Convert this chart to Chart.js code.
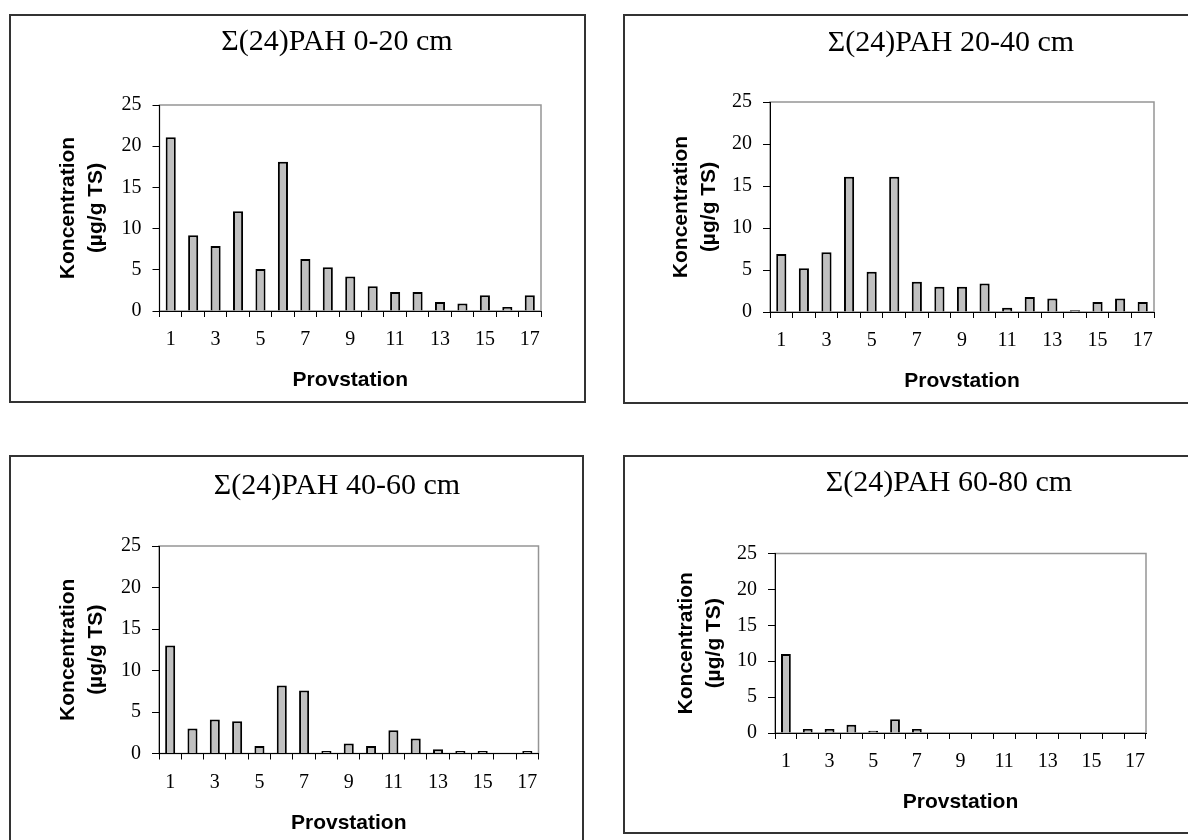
<!DOCTYPE html>
<html>
<head>
<meta charset="utf-8">
<script src="https://cdn.jsdelivr.net/npm/chart.js@4.4.0/dist/chart.umd.min.js"></script>
<style>
  html, body { margin: 0; padding: 0; background: #fff; overflow: hidden; }
  body { width: 1188px; height: 840px; position: relative; }
  .panel { position: absolute; }
  .panel canvas { position: absolute; left: 0; top: 0; }
  .frame { position: absolute; left: 0; top: 0; border: 2px solid #333; box-sizing: border-box; pointer-events: none; }
</style>
</head>
<body>
<script>
// Provstationer 1-17
const stations = ['1', '2', '3', '4', '5', '6', '7', '8', '9', '10', '11', '12', '13', '14', '15', '16', '17'];

// Σ(24)PAH, µg/g TS, per djup
const pah0_20 = [21.1, 9.2, 7.9, 12.1, 5.1, 18.1, 6.3, 5.3, 4.2, 3.0, 2.3, 2.3, 1.1, 0.9, 1.9, 0.5, 1.9];
const pah20_40 = [6.9, 5.2, 7.1, 16.1, 4.8, 16.1, 3.6, 3.0, 3.0, 3.4, 0.5, 1.8, 1.6, 0.2, 1.2, 1.6, 1.2];
const pah40_60 = [13.0, 3.0, 4.1, 3.9, 0.9, 8.2, 7.6, 0.3, 1.2, 0.9, 2.8, 1.8, 0.5, 0.3, 0.3, null, 0.3];
const pah60_80 = [11.0, 0.55, 0.55, 1.15, 0.3, 1.9, 0.55, null, null, null, null, null, null, null, null, null, null];

const yTicks = [0, 5, 10, 15, 20, 25];
const titles = ['Σ(24)PAH 0-20 cm', 'Σ(24)PAH 20-40 cm', 'Σ(24)PAH 40-60 cm', 'Σ(24)PAH 60-80 cm'];
const yTitle = ['Koncentration', '(µg/g TS)'];
const xTitle = 'Provstation';

// ram, plotyta och textlägen för varje diagram (sidkoordinater)
const panels = [
  { data: pah0_20,  title: titles[0], frame: [9, 14, 577, 389],   plot: [159.5, 105, 541, 311],   titleAt: [337, 42],  yTitleX: 68,  xTitleY: 380 },
  { data: pah20_40, title: titles[1], frame: [623, 14, 577, 390], plot: [770, 102, 1154, 312],    titleAt: [951, 43],  yTitleX: 681, xTitleY: 381 },
  { data: pah40_60, title: titles[2], frame: [9, 455, 575, 392],  plot: [159, 546, 538.5, 753.5], titleAt: [337, 486], yTitleX: 68,  xTitleY: 823 },
  { data: pah60_80, title: titles[3], frame: [623, 455, 577, 379], plot: [775, 553.5, 1146, 733], titleAt: [949, 483], yTitleX: 686, xTitleY: 802 }
];

const tickFont = { family: '"Liberation Serif", "Times New Roman", serif', size: 20 };
const axisFont = { family: '"Liberation Sans", Arial, sans-serif', size: 21, weight: 'bold', lineHeight: 1.35 };
const titleFont = '30px "Liberation Serif", "Times New Roman", serif';

// grå ram runt plotytan (vänster och nederkant täcks av axlarna)
const plotFrame = {
  id: 'plotFrame',
  beforeDraw(chart) {
    const { ctx, chartArea: a } = chart;
    ctx.save();
    ctx.strokeStyle = '#959595';
    ctx.lineWidth = 1.5;
    ctx.strokeRect(a.left, a.top, a.right - a.left, a.bottom - a.top);
    ctx.restore();
  }
};

// diagramrubrik, placerad som i originalbladet
const panelTitle = {
  id: 'panelTitle',
  afterDraw(chart, args, opts) {
    const ctx = chart.ctx;
    ctx.save();
    ctx.font = titleFont;
    ctx.fillStyle = '#000';
    ctx.textAlign = 'center';
    ctx.textBaseline = 'middle';
    ctx.fillText(opts.text, opts.x, opts.y);
    ctx.restore();
  }
};

function drawPanel(p) {
  const [fx, fy, fw, fh] = p.frame;
  const [pl, pt, pr, pb] = p.plot;
  const lh = axisFont.size * axisFont.lineHeight;

  const wrap = document.createElement('div');
  wrap.className = 'panel';
  wrap.style.left = fx + 'px';
  wrap.style.top = fy + 'px';
  wrap.style.width = fw + 'px';
  wrap.style.height = fh + 'px';

  const canvas = document.createElement('canvas');
  canvas.width = fw;
  canvas.height = fh;
  wrap.appendChild(canvas);

  const frame = document.createElement('div');
  frame.className = 'frame';
  frame.style.width = fw + 'px';
  frame.style.height = fh + 'px';
  wrap.appendChild(frame);
  document.body.appendChild(wrap);

  new Chart(canvas, {
    type: 'bar',
    data: {
      labels: stations,
      datasets: [{
        data: p.data,
        backgroundColor: '#c0c0c0',
        borderColor: '#000',
        borderWidth: 2,
        barPercentage: 0.45,
        categoryPercentage: 1
      }]
    },
    options: {
      responsive: false,
      animation: false,
      layout: {
        padding: { left: 0, top: pt - fy, right: fx + fw - pr, bottom: 0 }
      },
      plugins: {
        legend: { display: false },
        tooltip: { enabled: false },
        panelTitle: { text: p.title, x: p.titleAt[0] - fx, y: p.titleAt[1] - fy }
      },
      scales: {
        x: {
          grid: { offset: true, drawOnChartArea: false, drawTicks: true, tickLength: 6, color: '#000', lineWidth: 1 },
          border: { color: '#000', width: 1 },
          ticks: {
            autoSkip: false,
            maxRotation: 0,
            padding: 11,
            color: '#000',
            font: tickFont,
            callback: function(value, index) {
              return index % 2 === 0 ? this.getLabelForValue(value) : '';
            }
          },
          title: {
            display: true,
            text: xTitle,
            color: '#000',
            font: axisFont,
            padding: { top: 0, bottom: fy + fh - p.xTitleY - lh / 2 }
          },
          afterFit: function(scale) { scale.height = fy + fh - pb; }
        },
        y: {
          min: yTicks[0],
          max: yTicks[yTicks.length - 1],
          grid: { drawOnChartArea: false, drawTicks: true, tickLength: 7, color: '#000', lineWidth: 1 },
          border: { color: '#000', width: 1 },
          ticks: {
            stepSize: yTicks[1] - yTicks[0],
            padding: 11,
            color: '#000',
            font: tickFont
          },
          title: {
            display: true,
            text: yTitle,
            color: '#000',
            font: axisFont,
            padding: { top: p.yTitleX - fx - lh / 2, bottom: 0 }
          },
          afterFit: function(scale) { scale.width = pl - fx; }
        }
      }
    },
    plugins: [plotFrame, panelTitle]
  });
}

panels.forEach(drawPanel);
</script>
</body>
</html>
